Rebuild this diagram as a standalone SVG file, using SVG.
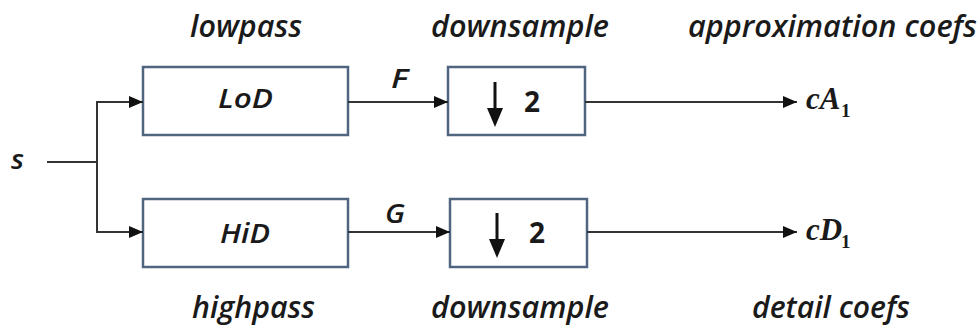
<svg xmlns="http://www.w3.org/2000/svg" width="979" height="329" viewBox="0 0 979 329">
<defs>
<marker id="ah" viewBox="0 0 14 12" refX="14" refY="6" markerWidth="14" markerHeight="12" markerUnits="userSpaceOnUse" orient="auto"><path d="M0,0 L14,6 L0,12 z" fill="#111"/></marker>
<style>
.lbl{font-family:"Open Sans","Liberation Sans",sans-serif;font-style:italic;font-weight:600;font-size:30px;fill:#1a1a1a}
.box{fill:#fff;stroke:#4f6580;stroke-width:2.5}
.bt{font-family:"Open Sans","Liberation Sans",sans-serif;font-style:italic;font-weight:600;font-size:27px;fill:#1a1a1a}
.num{font-family:"Open Sans","Liberation Sans",sans-serif;font-weight:bold;font-size:28px;fill:#1a1a1a}
.ln{fill:none;stroke:#333;stroke-width:2}
.math{font-family:"Liberation Serif",serif;font-style:italic;font-weight:bold;font-size:31px;fill:#1a1a1a}
.sub{font-family:"Liberation Serif",serif;font-style:normal;font-weight:bold;font-size:19px;fill:#1a1a1a}
</style>
</defs>
<rect width="979" height="329" fill="#fff"/>
<g id="labels">
<text class="lbl" x="190" y="37" textLength="112" lengthAdjust="spacingAndGlyphs">lowpass</text>
<text class="lbl" x="431" y="37" textLength="178" lengthAdjust="spacingAndGlyphs">downsample</text>
<text class="lbl" x="688" y="37" textLength="289" lengthAdjust="spacingAndGlyphs">approximation coefs</text>
<text class="lbl" x="192" y="318" textLength="123" lengthAdjust="spacingAndGlyphs">highpass</text>
<text class="lbl" x="431" y="318" textLength="178" lengthAdjust="spacingAndGlyphs">downsample</text>
<text class="lbl" x="752" y="318" textLength="158" lengthAdjust="spacingAndGlyphs">detail coefs</text>
</g>
<g id="s"><text class="bt" x="11" y="169" font-size="32" textLength="13" lengthAdjust="spacingAndGlyphs">s</text></g>
<g id="lod"><rect class="box" x="143" y="67" width="205" height="68"/><text class="bt" x="218" y="108" textLength="55" lengthAdjust="spacingAndGlyphs">LoD</text></g>
<g id="hid"><rect class="box" x="143" y="199" width="205" height="68"/><text class="bt" x="220" y="243" textLength="50" lengthAdjust="spacingAndGlyphs">HiD</text></g>
<g id="ds1"><rect class="box" x="448" y="67" width="137" height="68"/>
<path d="M495,82 V112" stroke="#111" stroke-width="3"/><path d="M487,108 L495,127 L503,108 z" fill="#111"/>
<text class="num" x="524" y="112">2</text></g>
<g id="ds2"><rect class="box" x="450" y="199" width="137" height="68"/>
<path d="M497,213 V243" stroke="#111" stroke-width="3"/><path d="M489,239 L497,258 L505,239 z" fill="#111"/>
<text class="num" x="529" y="243">2</text></g>
<g id="connectors">
<path class="ln" d="M47,162 H97"/>
<path class="ln" d="M97,102 V232"/>
<path class="ln" d="M96,102 H143" marker-end="url(#ah)"/>
<path class="ln" d="M96,232 H143" marker-end="url(#ah)"/>
<path class="ln" d="M348,102 H448" marker-end="url(#ah)"/>
<path class="ln" d="M348,232 H450" marker-end="url(#ah)"/>
<path class="ln" d="M585,102 H797" marker-end="url(#ah)"/>
<path class="ln" d="M587,232 H797" marker-end="url(#ah)"/>
<text class="bt" x="391" y="88" textLength="17" lengthAdjust="spacingAndGlyphs">F</text>
<text class="bt" x="385" y="223" textLength="20" lengthAdjust="spacingAndGlyphs">G</text>
</g>
<g id="cA1"><text class="math" x="806" y="109">cA</text><text class="sub" x="841" y="117">1</text></g>
<g id="cD1"><text class="math" x="806" y="240">cD</text><text class="sub" x="841" y="248">1</text></g>
</svg>
